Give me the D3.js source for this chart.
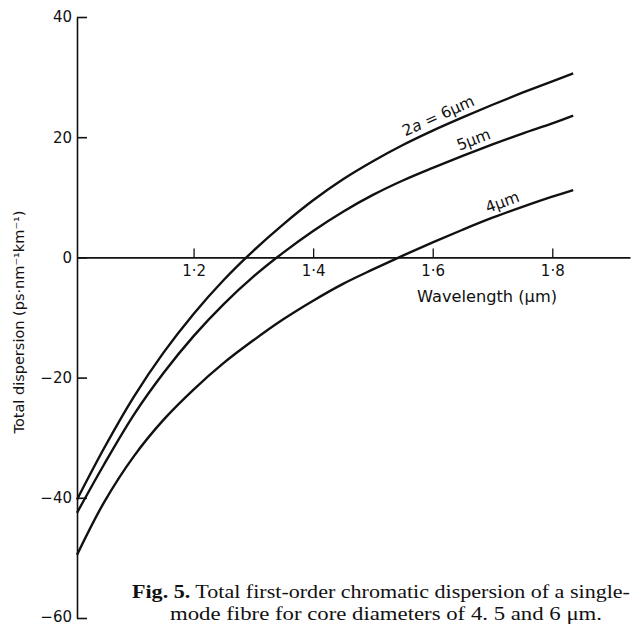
<!DOCTYPE html>
<html>
<head>
<meta charset="utf-8">
<script src="https://cdn.jsdelivr.net/npm/d3@7"></script>
<style>
  html, body { margin: 0; padding: 0; background: #fff; }
  svg { display: block; }
  text { fill: #111; }
</style>
</head>
<body>
<script>
// ---- data ----
const wavelength = [1.005, 1.05, 1.10, 1.15, 1.20, 1.25, 1.30, 1.35, 1.40, 1.45, 1.50, 1.55, 1.60, 1.65, 1.70, 1.75, 1.80, 1.835];
const disp6um = [-40.3, -31.8, -23.2, -15.8, -9.4, -3.8, 1.1, 5.5, 9.5, 13.0, 16.0, 18.7, 21.1, 23.3, 25.4, 27.4, 29.3, 30.6];
const disp5um = [-42.5, -34.5, -26.2, -19.2, -13.1, -7.8, -3.2, 0.8, 4.4, 7.6, 10.4, 12.8, 14.9, 16.9, 18.8, 20.6, 22.3, 23.6];
const disp4um = [-49.5, -40.8, -33.1, -27.0, -22.0, -17.6, -13.8, -10.3, -7.2, -4.4, -2.0, 0.3, 2.5, 4.6, 6.6, 8.4, 10.1, 11.2];
const seriesNames = ["2a = 6μm", "5μm", "4μm"];
const labelAt = [1.617, 1.675, 1.723];
const xTicks = [1.2, 1.4, 1.6, 1.8];
const yTicks = [40, 20, 0, -20, -40, -60];
const xTitle = "Wavelength  (μm)";
const yTitle = "Total dispersion (ps·nm⁻¹km⁻¹)";
const captionBold = "Fig. 5.";
const captionLine1 = " Total first-order chromatic dispersion of a single-";
const captionLine2 = "mode  fibre for core diameters of 4. 5 and 6 μm.";

const W = 632, H = 625;
const svg = d3.select("body").append("svg").attr("width", W).attr("height", H);

const x = d3.scaleLinear().domain([1.005, 1.93]).range([77, 630]);
const y = d3.scaleLinear().domain([-60, 40]).range([618, 17]);

const sans = "'DejaVu Sans', sans-serif";

// y axis
const yAxis = d3.axisLeft(y).tickValues(yTicks).tickSizeInner(-10).tickSizeOuter(0).tickPadding(5)
  .tickFormat(d3.format("d"));
const gy = svg.append("g").attr("transform", `translate(${x(1.005)},0)`).call(yAxis);
gy.select(".domain").attr("stroke", "#111").attr("stroke-width", 1.6);
gy.selectAll(".tick line").attr("stroke", "#111").attr("stroke-width", 1.6);
gy.selectAll(".tick text").attr("font-family", sans).attr("font-size", 15).attr("fill", "#111")
  .attr("dy", d => d === -60 ? "0.22em" : "0.32em");

// x axis at y=0
const xAxis = d3.axisBottom(x).tickValues(xTicks).tickSizeInner(-9).tickSizeOuter(0).tickPadding(8)
  .tickFormat(d => d.toFixed(1).replace(".", "·"));
const gx = svg.append("g").attr("transform", `translate(0,${y(0)})`).call(xAxis);
gx.select(".domain").attr("stroke", "#111").attr("stroke-width", 1.6);
gx.selectAll(".tick line").attr("stroke", "#111").attr("stroke-width", 1.3);
gx.selectAll(".tick text").attr("font-family", sans).attr("font-size", 15).attr("fill", "#111");

// axis titles
svg.append("text").attr("x", 487).attr("y", 301.5).attr("text-anchor", "middle")
  .attr("font-family", sans).attr("font-size", 15)
  .attr("textLength", 140).attr("lengthAdjust", "spacingAndGlyphs").text(xTitle);

svg.append("text").attr("transform", "translate(24,322) rotate(-90)").attr("text-anchor", "middle")
  .attr("font-family", sans).attr("font-size", 13.5)
  .attr("textLength", 223).attr("lengthAdjust", "spacingAndGlyphs").text(yTitle);

// curves
const series = [disp6um, disp5um, disp4um];
const line = d3.line().x(d => x(d[0])).y(d => y(d[1])).curve(d3.curveCatmullRom.alpha(0.5));
series.forEach((vals, i) => {
  const pts = wavelength.map((w, j) => [w, vals[j]]);
  svg.append("path").datum(pts).attr("d", line)
    .attr("fill", "none").attr("stroke", "#111").attr("stroke-width", 2.4)
    .attr("stroke-linejoin", "round");
  // label along curve
  const lw = labelAt[i];
  const interp = w => {
    const k = d3.bisectLeft(wavelength, w);
    const a = wavelength[k - 1], b = wavelength[k];
    const t = (w - a) / (b - a);
    return vals[k - 1] + t * (vals[k] - vals[k - 1]);
  };
  const px = x(lw), py = y(interp(lw));
  const ang = Math.atan2(y(interp(lw + 0.03)) - y(interp(lw - 0.03)), x(lw + 0.03) - x(lw - 0.03)) * 180 / Math.PI;
  const t = svg.append("text").attr("transform", `translate(${px},${py}) rotate(${ang})`)
    .attr("text-anchor", "middle").attr("y", -6)
    .attr("font-family", sans).attr("font-size", 15.5);
  if (i === 0) {
    t.append("tspan").text("2");
    t.append("tspan").attr("font-style", "italic").text("a");
    t.append("tspan").text(" = 6μm");
  } else {
    t.text(seriesNames[i]);
  }
});

// caption
const serif = "'Liberation Serif', 'Times New Roman', serif";
const c1 = svg.append("text").attr("x", 132).attr("y", 598).attr("font-family", serif).attr("font-size", 18)
  .attr("textLength", 498).attr("lengthAdjust", "spacingAndGlyphs");
c1.append("tspan").attr("font-weight", "bold").text(captionBold);
c1.append("tspan").text(captionLine1);
svg.append("text").attr("x", 170).attr("y", 620).attr("font-family", serif).attr("font-size", 18)
  .attr("textLength", 432).attr("lengthAdjust", "spacingAndGlyphs").text(captionLine2);
</script>
</body>
</html>
